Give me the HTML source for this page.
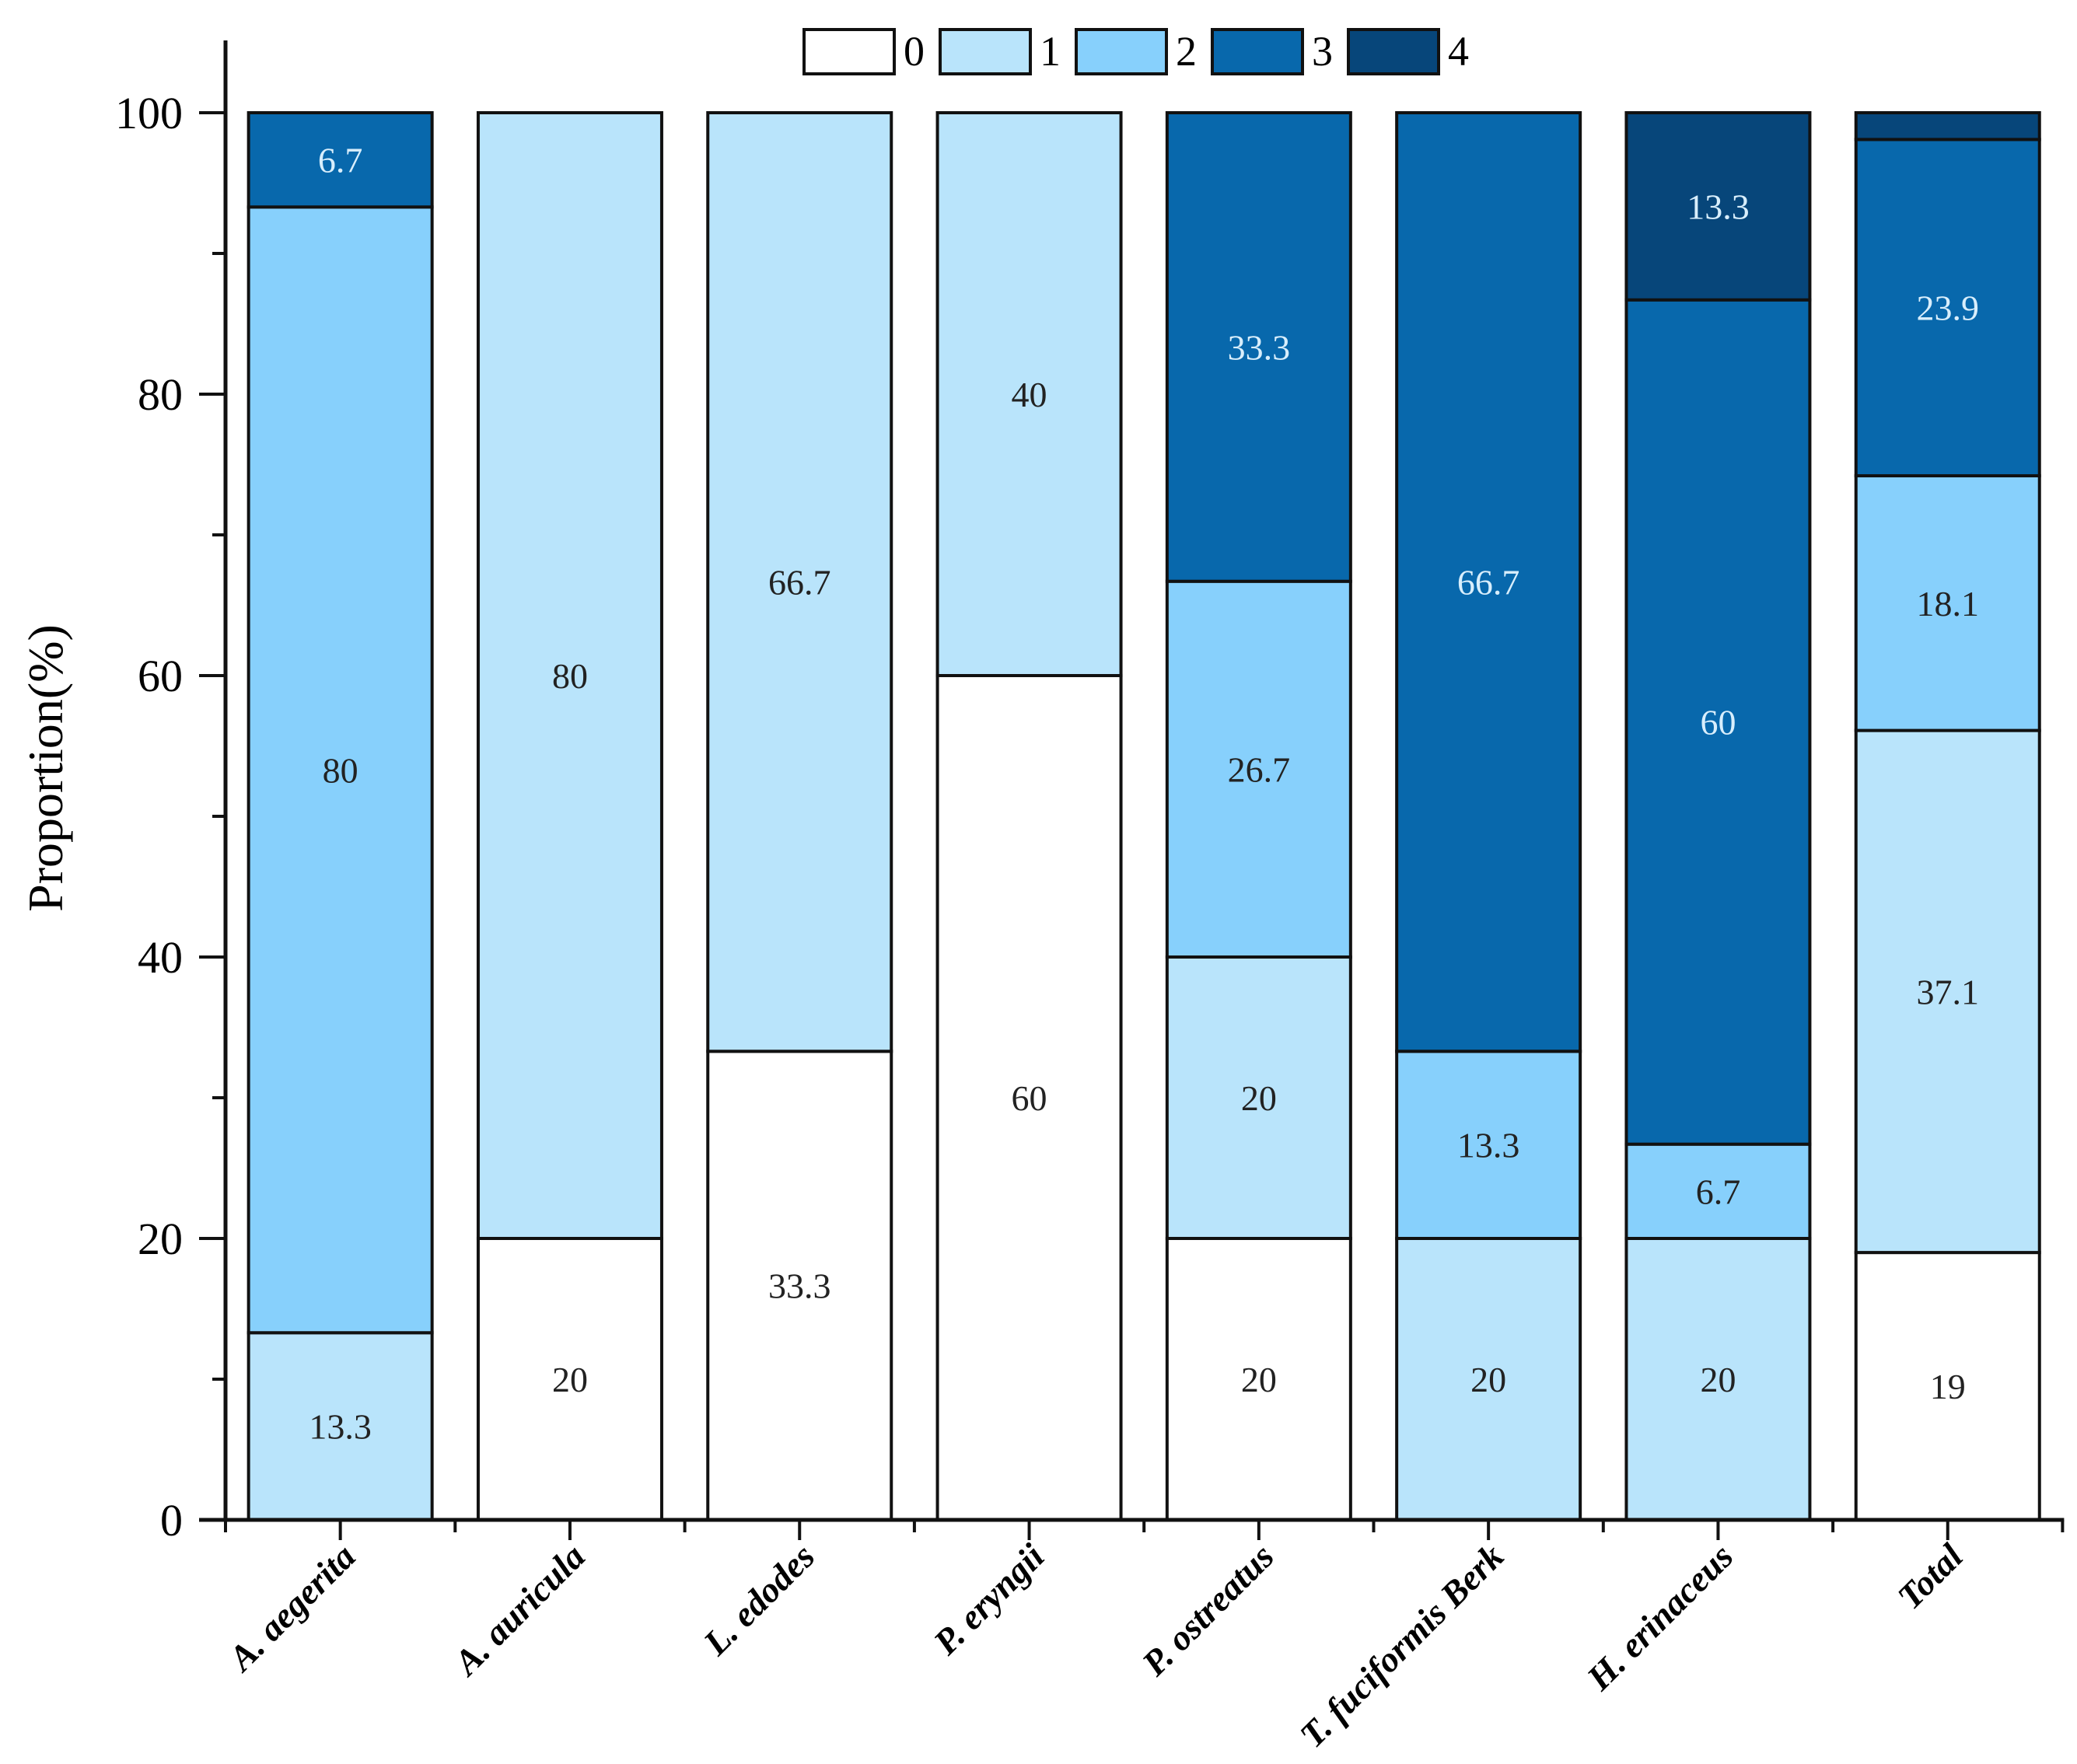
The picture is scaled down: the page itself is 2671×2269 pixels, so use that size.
<!DOCTYPE html>
<html><head><meta charset="utf-8"><style>
html,body{margin:0;padding:0;background:#fff;}
svg{display:block;font-family:"Liberation Serif",serif;}
</style></head><body>
<svg id="chart" width="2671" height="2269" viewBox="0 0 2671 2269">
<g id="legend"></g>
<g id="bars"></g>
<g id="axes"></g>
<text x="80" y="988" font-size="64" text-anchor="middle" transform="rotate(-90 80 988)">Proportion(%)</text>
</svg>
<script>
const categories = ["A. aegerita","A. auricula","L. edodes","P. eryngii","P. ostreatus","T. fuciformis Berk","H. erinaceus","Total"];
const series0 = [0,20,33.3,60,20,0,0,19];
const series1 = [13.3,80,66.7,40,20,20,20,37.1];
const series2 = [80,0,0,0,26.7,13.3,6.7,18.1];
const series3 = [6.7,0,0,0,33.3,66.7,60,23.9];
const series4 = [0,0,0,0,0,0,13.3,1.9];
const seriesNames = ["0","1","2","3","4"];
const yTicks = [0,20,40,60,80,100];

const colors = ["#ffffff","#b9e4fb","#87d0fc","#0868ac","#07467a"];
const textColors = ["#222","#222","#222","#d8eefc","#d8eefc"];
const NS = "http://www.w3.org/2000/svg";
const X0 = 290, STEP = 295.3, BW = 236, Y0 = 1955, Y100 = 145;
const y = v => Y0 - (Y0 - Y100) * v / 100;
const xc = i => X0 + STEP * (i + 0.5);
function mk(tag, attrs, parent){const e=document.createElementNS(NS,tag);for(const k in attrs)e.setAttribute(k,attrs[k]);parent.appendChild(e);return e;}
const bars = document.getElementById('bars'), axes = document.getElementById('axes'), legend = document.getElementById('legend');
const all = [series0,series1,series2,series3,series4];
categories.forEach((c,i)=>{
  let acc = 0;
  all.forEach((s,k)=>{
    const v = s[i]; if(v<=0) return;
    const r = mk('rect',{x:xc(i)-BW/2,y:y(acc+v),width:BW,height:y(acc)-y(acc+v),fill:colors[k],stroke:"#111","stroke-width":4},bars);
    
    
    if(v>=5){
      const t = mk('text',{x:xc(i),y:y(acc+v/2)+16,"font-size":46,"text-anchor":"middle",fill:textColors[k]},bars);
      t.textContent = v;
      
      
    }
    acc += v;
  });
  const tk = mk('line',{x1:xc(i),x2:xc(i),y1:Y0,y2:Y0+26,stroke:"#111","stroke-width":4},axes);
  
  
  const lx = xc(i)+22, ly = Y0+50;
  const lt = mk('text',{x:lx,y:ly,"font-size":46,"font-weight":"bold","font-style":"italic","text-anchor":"end",transform:`rotate(-45 ${lx} ${ly})`},axes);
  lt.textContent = c;
  
  
});
for(let i=0;i<=categories.length;i++){
  const m = mk('line',{x1:X0+STEP*i,x2:X0+STEP*i,y1:Y0,y2:Y0+16,stroke:"#111","stroke-width":4},axes);
  
  
}
const ax = mk('line',{x1:X0,x2:X0,y1:52,y2:Y0+2,stroke:"#111","stroke-width":5},axes);


const bx = mk('line',{x1:X0-34,x2:X0+STEP*categories.length+2,y1:Y0,y2:Y0,stroke:"#111","stroke-width":5},axes);


yTicks.forEach(v=>{
  const t = mk('line',{x1:X0-34,x2:X0,y1:y(v),y2:y(v),stroke:"#111","stroke-width":4},axes);
  
  
  const l = mk('text',{x:X0-55,y:y(v)+20,"font-size":58,"text-anchor":"end"},axes);
  l.textContent = v;
  
  
  if(v<100){
    const m = mk('line',{x1:X0-17,x2:X0,y1:y(v+10),y2:y(v+10),stroke:"#111","stroke-width":4},axes);
    
    
  }
});
seriesNames.forEach((n,k)=>{
  const lx = 1034 + k*175;
  const r = mk('rect',{x:lx,y:38,width:116,height:57,fill:colors[k],stroke:"#111","stroke-width":4},legend);
  
  
  const t = mk('text',{x:lx+128,y:84,"font-size":54},legend);
  t.textContent = n;
  
  
});
</script>
</body></html>
